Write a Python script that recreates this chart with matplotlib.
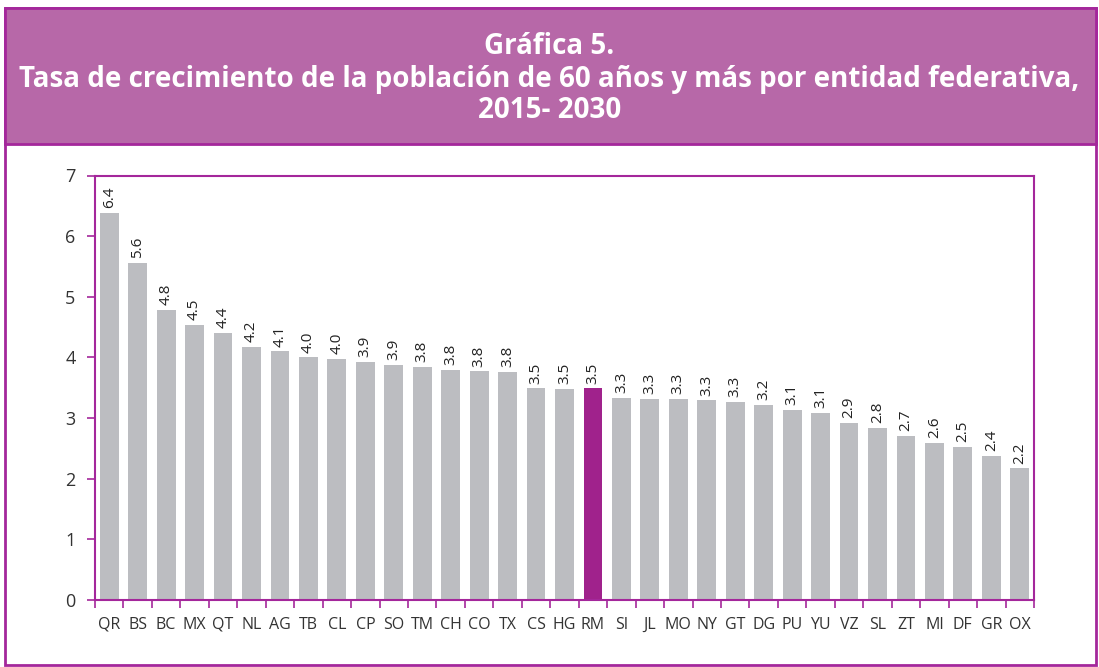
import matplotlib
matplotlib.use("Agg")
import matplotlib.pyplot as plt
from matplotlib.patches import Rectangle

states = ["QR", "BS", "BC", "MX", "QT", "NL", "AG", "TB", "CL", "CP", "SO",
          "TM", "CH", "CO", "TX", "CS", "HG", "RM", "SI", "JL", "MO", "NY",
          "GT", "DG", "PU", "YU", "VZ", "SL", "ZT", "MI", "DF", "GR", "OX"]
rates = [6.38, 5.56, 4.79, 4.54, 4.40, 4.17, 4.10, 4.00, 3.98, 3.92, 3.87,
         3.84, 3.79, 3.77, 3.76, 3.49, 3.48, 3.49, 3.33, 3.31, 3.31, 3.29,
         3.26, 3.21, 3.13, 3.08, 2.92, 2.84, 2.70, 2.59, 2.52, 2.37, 2.17]
highlight = "RM"

purple = "#A4279B"
header = "#B768A8"
grey = "#BCBDC1"
magenta = "#A0228C"

plt.rcParams['font.family'] = ['Open Sans', 'DejaVu Sans']

fig = plt.figure(figsize=(10.99, 6.67), dpi=100)

# outer frame and header band (behind the axes)
fig.patches.append(Rectangle((5 / 1099, 2 / 667), 1091 / 1099, 657 / 667,
                             transform=fig.transFigure, facecolor="white",
                             edgecolor=purple, linewidth=2, zorder=-2))
fig.patches.append(Rectangle((5 / 1099, 1 - 144 / 667), 1091 / 1099, 136 / 667,
                             transform=fig.transFigure, facecolor=header,
                             edgecolor=purple, linewidth=2, zorder=-1))

title_kw = dict(ha="center", va="center", color="white", fontsize=20,
                fontweight="bold")
fig.text(0.5, 1 - 47 / 667, "Gráfica 5.", **title_kw)
fig.text(0.5, 1 - 79 / 667,
         "Tasa de crecimiento de la población de 60 años y más por entidad federativa,",
         **title_kw)
fig.text(0.5, 1 - 110 / 667, "2015- 2030", **title_kw)

ax = fig.add_axes([95 / 1099, 1 - 600 / 667, 939 / 1099, 424.5 / 667])

x = list(range(len(states)))
colors = [magenta if s == highlight else grey for s in states]
ax.bar(x, rates, width=0.66, color=colors, edgecolor="none")

for xi, v in zip(x, rates):
    ax.text(xi, v + 0.08, f"{v:.1f}", rotation=90, ha="center", va="bottom",
            fontsize=11, color="#222222")

ax.set_xlim(-0.5, len(states) - 0.5)
ax.set_ylim(0, 7)
ax.set_yticks(range(0, 8))
ax.set_xticks([i - 0.5 for i in range(len(states) + 1)])
ax.set_xticklabels([])
ax.set_xticks(x, minor=True)
ax.set_xticklabels(states, minor=True, fontsize=11.5, color="#333333")

ax.tick_params(axis="y", colors=purple, labelcolor="#333333", labelsize=13,
               length=6, width=1.2, pad=8)
ax.tick_params(axis="x", which="major", colors=purple, length=6, width=1.2)
ax.tick_params(axis="x", which="minor", length=0, pad=12)

for sp in ax.spines.values():
    sp.set_color(purple)
    sp.set_linewidth(1.5)

fig.savefig("out.png", dpi=100)
